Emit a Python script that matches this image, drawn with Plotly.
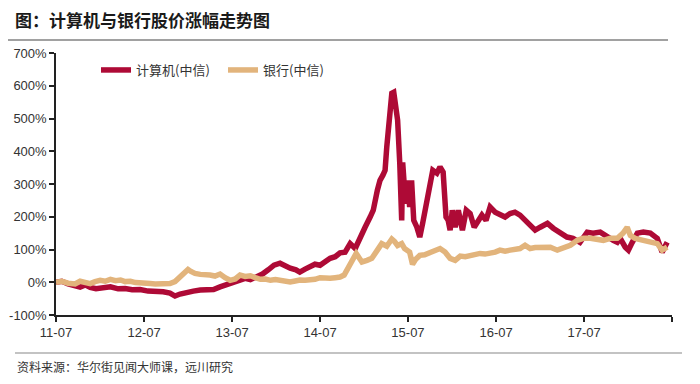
import plotly.graph_objects as go

# ---- data ----
comp_dates = [
    "2011-07-01", "2011-07-25", "2011-08-20", "2011-09-14", "2011-10-09", "2011-10-30", "2011-11-20",
    "2011-12-14", "2012-01-13", "2012-02-12", "2012-03-15", "2012-04-13", "2012-05-12", "2012-06-14",
    "2012-07-17", "2012-08-20", "2012-09-18", "2012-10-16", "2012-11-06", "2012-11-27", "2012-12-22",
    "2013-01-21", "2013-02-19", "2013-03-18", "2013-04-15", "2013-05-12", "2013-06-06", "2013-07-04",
    "2013-08-03", "2013-08-24", "2013-09-15", "2013-10-09", "2013-11-04", "2013-11-28", "2013-12-22",
    "2014-01-16", "2014-02-06", "2014-02-27", "2014-03-23", "2014-04-08", "2014-04-30", "2014-05-20",
    "2014-06-10", "2014-07-01", "2014-07-22", "2014-08-12", "2014-09-02", "2014-09-22", "2014-10-13",
    "2014-11-03", "2014-11-24", "2014-12-14", "2015-01-04", "2015-01-25", "2015-02-07", "2015-02-24",
    "2015-03-07", "2015-03-19", "2015-03-28", "2015-04-04", "2015-04-16", "2015-04-25", "2015-05-03",
    "2015-05-11", "2015-05-19", "2015-05-28", "2015-06-05", "2015-06-09", "2015-06-21", "2015-06-30",
    "2015-07-08", "2015-07-16", "2015-07-25", "2015-08-07", "2015-08-19", "2015-08-31", "2015-09-17",
    "2015-09-30", "2015-10-12", "2015-10-29", "2015-11-11", "2015-11-24", "2015-12-06", "2015-12-15",
    "2015-12-23", "2016-01-01", "2016-01-13", "2016-01-26", "2016-02-12", "2016-02-28", "2016-03-15",
    "2016-04-01", "2016-04-17", "2016-05-03", "2016-05-20", "2016-06-06", "2016-06-27", "2016-07-17",
    "2016-08-07", "2016-08-28", "2016-09-17", "2016-10-08", "2016-10-29", "2016-11-19", "2016-12-10",
    "2016-12-31", "2017-01-30", "2017-02-23", "2017-03-23", "2017-04-21", "2017-05-16", "2017-06-14",
    "2017-07-14", "2017-08-07", "2017-09-06", "2017-10-05", "2017-10-30", "2017-11-16", "2017-11-28",
    "2017-12-19", "2018-01-01", "2018-01-17", "2018-02-07", "2018-03-04", "2018-04-02", "2018-05-01",
    "2018-05-21", "2018-06-11",
]
comp_values = [
    0, 3, -5, -10, -15, -8, -16,
    -20, -18, -14, -20, -19, -23, -22,
    -27, -26, -29, -33, -42, -36, -30,
    -27, -24, -25, -22, -14, -8, 0,
    4, 12, 8, 15, 25, 38, 52,
    58, 50, 43, 38, 31, 40, 46,
    55, 52, 62, 73, 78, 90, 92,
    118, 103, 138, 168, 199, 220, 281,
    311, 327, 342, 413, 504, 577, 580,
    547, 495, 363, 189, 366, 240, 311,
    230, 311, 189, 168, 138, 180, 250,
    281, 342, 333, 352, 336, 199, 189,
    159, 220, 168, 220, 159, 220, 210,
    168, 189, 205, 189, 230, 214, 205,
    199, 210, 214, 205, 189, 174, 159,
    168, 180, 165, 150, 138, 134, 122,
    153, 150, 153, 138, 128, 122, 134,
    107, 98, 122, 150, 153, 150, 134,
    92, 122,
]

bank_dates = [
    "2011-07-01", "2011-07-25", "2011-08-20", "2011-09-18", "2011-10-09", "2011-10-30", "2011-11-20",
    "2011-12-10", "2011-12-31", "2012-01-21", "2012-02-12", "2012-03-04", "2012-03-25", "2012-04-13",
    "2012-05-05", "2012-05-26", "2012-06-14", "2012-07-05", "2012-07-26", "2012-08-16", "2012-09-06",
    "2012-09-27", "2012-10-16", "2012-11-06", "2012-11-18", "2012-12-05", "2012-12-18", "2012-12-30",
    "2013-01-11", "2013-01-28", "2013-02-19", "2013-03-10", "2013-03-31", "2013-04-21", "2013-05-12",
    "2013-06-02", "2013-06-23", "2013-07-14", "2013-08-03", "2013-08-24", "2013-09-15", "2013-10-05",
    "2013-10-26", "2013-11-16", "2013-12-07", "2013-12-28", "2014-01-16", "2014-02-06", "2014-02-27",
    "2014-03-20", "2014-04-08", "2014-04-30", "2014-05-20", "2014-06-10", "2014-07-01", "2014-07-22",
    "2014-08-12", "2014-09-02", "2014-09-22", "2014-10-09", "2014-10-22", "2014-11-03", "2014-11-15",
    "2014-11-28", "2014-12-10", "2014-12-22", "2015-01-12", "2015-02-01", "2015-02-24", "2015-03-14",
    "2015-04-04", "2015-04-25", "2015-05-06", "2015-05-19", "2015-06-05", "2015-06-17", "2015-07-08",
    "2015-07-20", "2015-08-02", "2015-08-19", "2015-09-08", "2015-09-30", "2015-10-20", "2015-11-11",
    "2015-12-02", "2015-12-23", "2016-01-13", "2016-02-03", "2016-02-24", "2016-03-15", "2016-04-05",
    "2016-04-25", "2016-05-16", "2016-06-06", "2016-06-27", "2016-07-17", "2016-08-07", "2016-08-28",
    "2016-09-17", "2016-10-08", "2016-10-29", "2016-11-19", "2016-12-10", "2016-12-31", "2017-01-21",
    "2017-02-11", "2017-03-12", "2017-04-05", "2017-05-05", "2017-06-03", "2017-06-28", "2017-07-27",
    "2017-08-25", "2017-09-19", "2017-10-18", "2017-11-16", "2017-12-10", "2017-12-27", "2018-01-09",
    "2018-01-29", "2018-03-04", "2018-04-02", "2018-05-01", "2018-05-21", "2018-06-11",
]
bank_values = [
    0, 3, -3, -5, 3, -2, -4,
    2, 6, 3, 9, 5, 7, 2,
    3, -1, -3, -2, -4, -5, -6,
    -3, -4, 2, 11, 22, 31, 39,
    33, 27, 24, 21, 22, 19, 25,
    14, 6, 10, 22, 18, 20, 14,
    9, 10, 6, 8, 6, 4, 1,
    4, 7, 6, 7, 9, 14, 12,
    12, 14, 16, 22, 40, 62, 78,
    88, 75, 62, 67, 73, 98, 118,
    110, 132, 125, 112, 118, 103, 92,
    55, 70, 82, 84, 92, 96, 103,
    92, 73, 67, 80, 78, 82, 84,
    88, 86, 88, 92, 98, 95, 98,
    100, 103, 113, 103, 106, 107, 110,
    107, 98, 103, 113, 128, 134, 134,
    131, 128, 134, 134, 150, 168, 143,
    134, 128, 122, 118, 98, 107,
]

series_names = ["计算机(中信)", "银行(中信)"]
y_tick_vals = [-100, 0, 100, 200, 300, 400, 500, 600, 700]
y_tick_text = ["-100%", "0%", "100%", "200%", "300%", "400%", "500%", "600%", "700%"]
x_tick_vals = ["2011-07-01", "2012-07-01", "2013-07-01", "2014-07-01",
               "2015-07-01", "2016-07-01", "2017-07-01", "2018-07-01"]
x_tick_text = ["11-07", "12-07", "13-07", "14-07", "15-07", "16-07", "17-07", ""]

title_text = "图：计算机与银行股价涨幅走势图"
source_text = "资料来源：华尔街见闻大师课，远川研究"

RED = "#AE0A36"
TAN = "#E2B47C"
FONT = "Noto Sans CJK SC"

fig = go.Figure()
fig.add_trace(go.Scatter(x=comp_dates, y=comp_values, mode="lines", name=series_names[0],
                         line=dict(color=RED, width=5.5)))
fig.add_trace(go.Scatter(x=bank_dates, y=bank_values, mode="lines", name=series_names[1],
                         line=dict(color=TAN, width=5.5)))

W, H = 700, 384
L, R, T, B = 56, 28, 53, 69
pw, ph = W - L - R, H - T - B

def px(x):
    return (x - L) / pw

def py(y):
    return (H - B - y) / ph

fig.update_layout(
    width=W, height=H,
    margin=dict(l=L, r=R, t=T, b=B, autoexpand=False),
    paper_bgcolor="white", plot_bgcolor="white",
    font=dict(family=FONT, size=13, color="#333333"),
    title=dict(text="<b>" + title_text + "</b>", x=15 / W, xanchor="left",
               y=1 - 21 / H, yanchor="middle",
               font=dict(family=FONT, size=17, color="#1a1a1a")),
    showlegend=True,
    legend=dict(orientation="h", x=px(96), y=py(70), xanchor="left", yanchor="middle",
                font=dict(family=FONT, size=13, color="#333333"),
                bgcolor="rgba(0,0,0,0)", itemwidth=30, entrywidth=82),
    xaxis=dict(type="date", range=["2011-07-01", "2018-07-01"], automargin=False,
               tickvals=x_tick_vals, ticktext=x_tick_text,
               showgrid=False, zeroline=False, showline=True, linecolor="#222222", linewidth=1.5,
               ticks="outside", ticklen=5, tickcolor="#222222", tickwidth=1.5,
               tickfont=dict(family="Liberation Sans", size=13, color="#333333")),
    yaxis=dict(range=[-100, 700], tickvals=y_tick_vals, ticktext=y_tick_text, automargin=False,
               showgrid=False, zeroline=False, showline=True, linecolor="#222222", linewidth=1.5,
               ticks="outside", ticklen=5, tickcolor="#222222", tickwidth=1.5,
               tickfont=dict(family="Liberation Sans", size=13, color="#333333")),
    shapes=[
        dict(type="line", xref="paper", yref="paper", x0=px(8), x1=px(668), y0=py(40), y1=py(40),
             line=dict(color="#444444", width=1.2)),
        dict(type="line", xref="paper", yref="paper", x0=px(15), x1=px(682), y0=py(353), y1=py(353),
             line=dict(color="#888888", width=1.2)),
    ],
    annotations=[
        dict(text=source_text, xref="paper", yref="paper", x=px(15), y=py(366),
             xanchor="left", yanchor="middle", showarrow=False,
             font=dict(family=FONT, size=12, color="#333333")),
    ],
)

fig.write_html("out.html", config={"displayModeBar": False},
               post_script="document.body.style.margin='0';document.body.style.overflow='hidden';")
